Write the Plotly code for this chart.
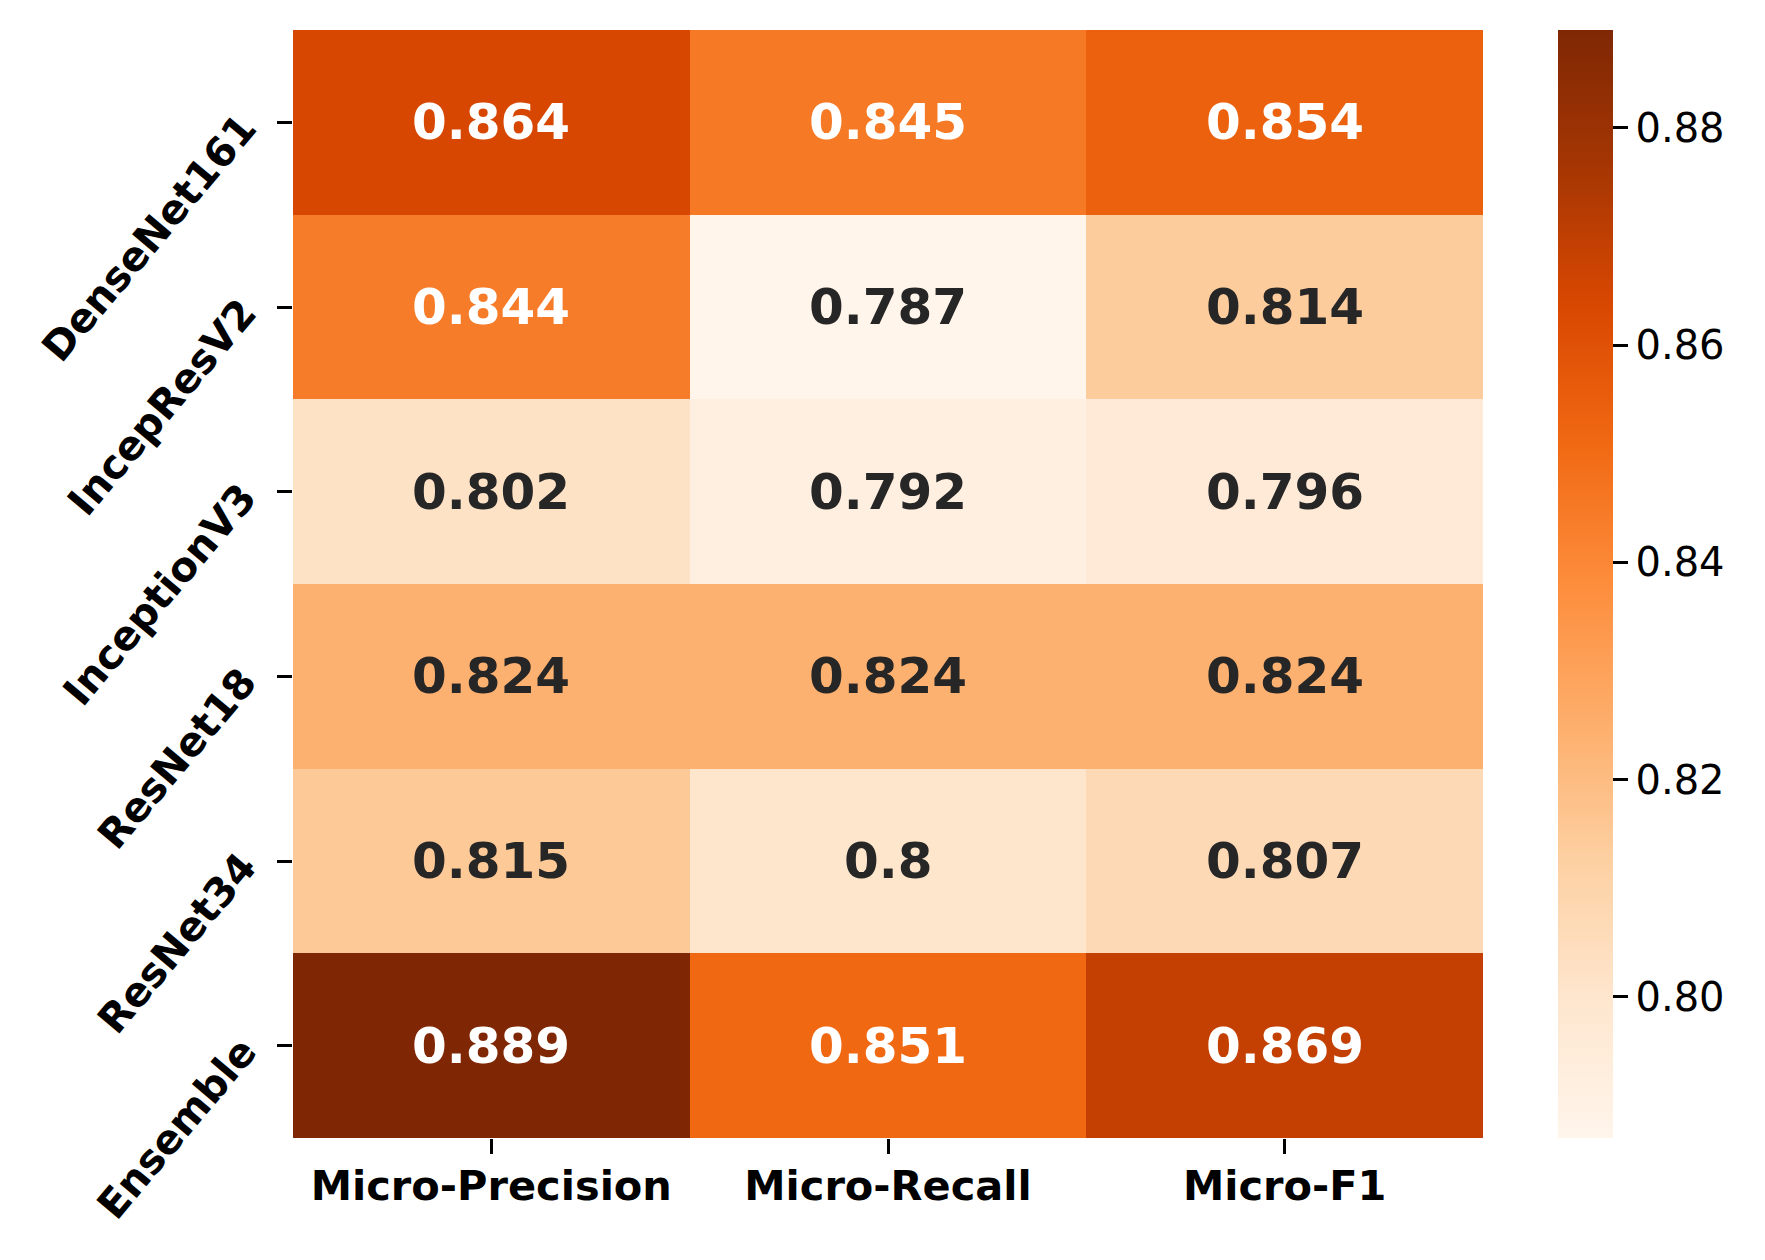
import plotly.graph_objects as go

models = ["DenseNet161", "IncepResV2", "InceptionV3", "ResNet18", "ResNet34", "Ensemble"]
metrics = ["Micro-Precision", "Micro-Recall", "Micro-F1"]

precision = [0.864, 0.844, 0.802, 0.824, 0.815, 0.889]
recall = [0.845, 0.787, 0.792, 0.824, 0.800, 0.851]
f1 = [0.854, 0.814, 0.796, 0.824, 0.807, 0.869]

cbar_ticks = [0.80, 0.82, 0.84, 0.86, 0.88]

z = [[p, r, f] for p, r, f in zip(precision, recall, f1)]
zmin = min(min(row) for row in z)
zmax = max(max(row) for row in z)

# the page body has an 8px margin, so the figure is shifted by that much
off = 8
W, H = 1765 - 2 * off, 1260 - 2 * off
left, right, top, bottom = 293 - off, 1483 - off, 30 - off, 1138 - off

fig = go.Figure(go.Heatmap(
    z=z, x=metrics, y=models,
    colorscale="Oranges", zmin=zmin, zmax=zmax,
    xgap=0, ygap=0, hoverongaps=False,
    colorbar=dict(
        xref="container", x=(1558 - off) / W, xanchor="left", xpad=0,
        yref="paper", y=0.5, yanchor="middle", len=1, lenmode="fraction", ypad=0,
        thickness=55, thicknessmode="pixels", outlinewidth=0,
        tickmode="array", tickvals=cbar_ticks, ticktext=[f"{t:.2f}" for t in cbar_ticks],
        ticks="outside", ticklen=15, tickwidth=3, tickcolor="black",
        tickfont=dict(family="DejaVu Sans", size=40, color="black"),
    ),
))

# cell labels, seaborn style: white on dark cells, dark grey on light ones
for i, m in enumerate(models):
    for j, met in enumerate(metrics):
        v = z[i][j]
        frac = (v - zmin) / (zmax - zmin)
        fig.add_annotation(
            x=met, y=m, text=f"<b>{v:.3g}</b>", showarrow=False,
            font=dict(family="DejaVu Sans", size=50, color="white" if frac > 0.5 else "#262626"),
        )

fig.update_layout(
    width=W, height=H,
    margin=dict(l=left, r=W - right, t=top, b=H - bottom, autoexpand=False),
    paper_bgcolor="white", plot_bgcolor="white",
    font=dict(family="DejaVu Sans", color="black"),
)
fig.update_xaxes(
    tickfont=dict(family="DejaVu Sans", size=41.5, color="black"),
    tickprefix="<b>", ticksuffix="</b>", ticklabelstandoff=-4,
    ticks="outside", ticklen=15, tickwidth=3, tickcolor="black",
    showgrid=False, zeroline=False, showline=False,
)
fig.update_yaxes(
    autorange="reversed",
    tickfont=dict(family="DejaVu Sans", size=40.5, color="black"),
    tickprefix="<b>", ticksuffix="</b>", tickangle=-50, ticklabelstandoff=26,
    ticks="outside", ticklen=15, tickwidth=3, tickcolor="black",
    showgrid=False, zeroline=False, showline=False,
)

fig.write_html("out.html")
